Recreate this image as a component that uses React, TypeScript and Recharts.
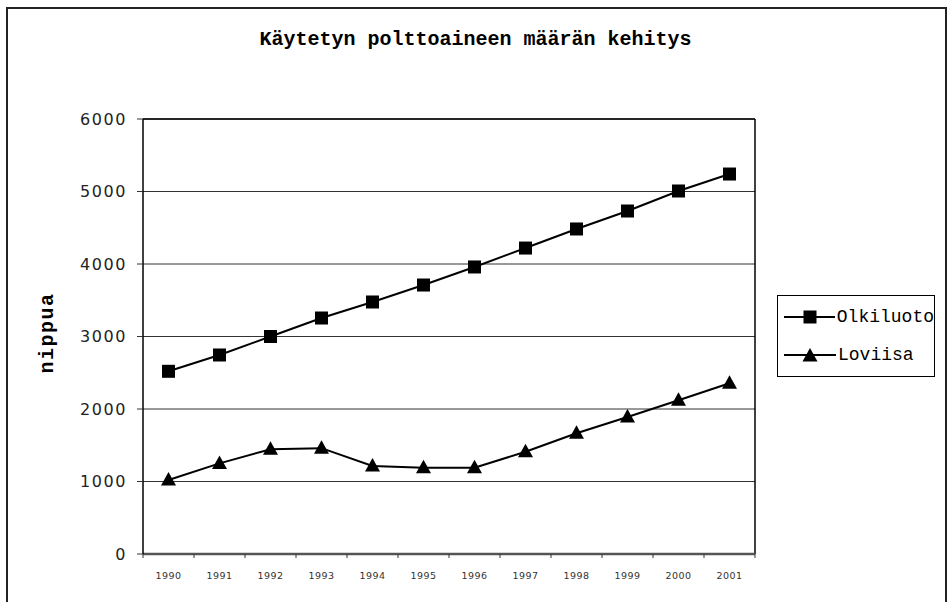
import { LineChart, Line, XAxis, YAxis, CartesianGrid, ReferenceLine } from 'recharts';

const YEARS = ['1990', '1991', '1992', '1993', '1994', '1995', '1996', '1997', '1998', '1999', '2000', '2001'];
const OLKILUOTO = [2520, 2745, 3000, 3255, 3476, 3710, 3959, 4220, 4483, 4731, 5007, 5241];
const LOVIISA = [1020, 1250, 1445, 1460, 1215, 1190, 1190, 1410, 1665, 1890, 2120, 2355];
const Y_TICKS = [0, 1000, 2000, 3000, 4000, 5000, 6000];
// ticks at category centres (labels) and at the boundaries (tick marks)
const X_TICKS = YEARS.flatMap((_, i) => [i - 0.5, i]).concat(YEARS.length - 0.5);

const data = YEARS.map((year, i) => ({ i, year, olkiluoto: OLKILUOTO[i], loviisa: LOVIISA[i] }));

const MONO = '"Liberation Mono", "DejaVu Sans Mono", monospace';

function YearTick({ x, y, payload }: { x: number; y: number; payload: { value: number } }) {
  const v = payload.value;
  if (Number.isInteger(v)) {
    return (
      <text x={x} y={y + 25} textAnchor="middle" fontSize={9.5} letterSpacing={0.4} fill="#333" fontFamily="DejaVu Sans">
        {YEARS[v]}
      </text>
    );
  }
  return <line x1={x} x2={x} y1={y} y2={y + 4} stroke="#333" strokeWidth={1} />;
}

function SquareDot({ cx, cy }: { cx?: number; cy?: number }) {
  if (cx == null || cy == null) return null;
  return <rect x={cx - 6.5} y={cy - 6.5} width={13} height={13} fill="#000" />;
}

function TriangleDot({ cx, cy }: { cx?: number; cy?: number }) {
  if (cx == null || cy == null) return null;
  return <polygon points={`${cx},${cy - 8} ${cx + 7.5},${cy + 5.5} ${cx - 7.5},${cy + 5.5}`} fill="#000" />;
}

function LegendRow({ label, marker }: { label: string; marker: 'square' | 'triangle' }) {
  return (
    <div style={{ display: 'flex', alignItems: 'center', height: 38 }}>
      <svg width={56} height={20}>
        <line x1={4} x2={56} y1={10} y2={10} stroke="#000" strokeWidth={2} />
        {marker === 'square' ? <SquareDot cx={30} cy={10} /> : <TriangleDot cx={30} cy={11} />}
      </svg>
      <span style={{ fontFamily: MONO, fontSize: 18, color: '#000', marginLeft: 2 }}>{label}</span>
    </div>
  );
}

export default function App() {
  return (
    <div style={{ position: 'absolute', left: 0, top: 0, width: 951, height: 602, overflow: 'hidden', background: '#fff' }}>
      <div
        style={{
          position: 'absolute',
          left: 6,
          top: 7,
          width: 937,
          height: 640,
          border: '2px solid #222',
        }}
      />
      <div
        style={{
          position: 'absolute',
          left: 0,
          top: 28,
          width: 951,
          textAlign: 'center',
          fontFamily: MONO,
          fontWeight: 'bold',
          fontSize: 20,
          color: '#000',
        }}
      >
        Käytetyn polttoaineen määrän kehitys
      </div>
      <div style={{ position: 'absolute', left: 0, top: 0 }}>
        <LineChart width={951} height={602} data={data} margin={{ top: 119, right: 196, bottom: 18, left: 83 }}>
          <CartesianGrid vertical={false} stroke="#333" strokeWidth={1} />
          <XAxis
            dataKey="i"
            type="number"
            domain={[-0.5, YEARS.length - 0.5]}
            ticks={X_TICKS}
            interval={0}
            allowDecimals
            height={30}
            tickSize={0}
            tickMargin={0}
            tickLine={false}
            axisLine={{ stroke: '#555', strokeWidth: 2.5 }}
            tick={YearTick as any}
          />
          <YAxis
            domain={[0, 6000]}
            ticks={Y_TICKS}
            width={60}
            tickSize={6}
            tickMargin={10}
            axisLine={{ stroke: '#000', strokeWidth: 1.5 }}
            tickLine={{ stroke: '#333' }}
            tick={{ fill: '#222', fontSize: 16, fontFamily: 'DejaVu Sans', letterSpacing: 1.6 }}
            label={() => (
              <text
                x={53}
                y={333}
                transform="rotate(-90 53 333)"
                textAnchor="middle"
                fontFamily={MONO}
                fontWeight="bold"
                fontSize={20}
                letterSpacing={1.5}
                fill="#000"
              >
                nippua
              </text>
            )}
          />
          <ReferenceLine y={6000} stroke="#000" strokeWidth={1.5} />
          <ReferenceLine x={YEARS.length - 0.5} stroke="#000" strokeWidth={1.5} />
          <Line
            dataKey="olkiluoto"
            name="Olkiluoto"
            stroke="#000"
            strokeWidth={2}
            dot={<SquareDot />}
            activeDot={false}
            isAnimationActive={false}
          />
          <Line
            dataKey="loviisa"
            name="Loviisa"
            stroke="#000"
            strokeWidth={2}
            dot={<TriangleDot />}
            activeDot={false}
            isAnimationActive={false}
          />
        </LineChart>
      </div>
      <div
        style={{
          position: 'absolute',
          left: 777,
          top: 295,
          width: 158,
          height: 82,
          border: '1px solid #000',
          padding: '2px 0 0 2px',
          boxSizing: 'border-box',
        }}
      >
        <LegendRow label="Olkiluoto" marker="square" />
        <LegendRow label="Loviisa" marker="triangle" />
      </div>
    </div>
  );
}
